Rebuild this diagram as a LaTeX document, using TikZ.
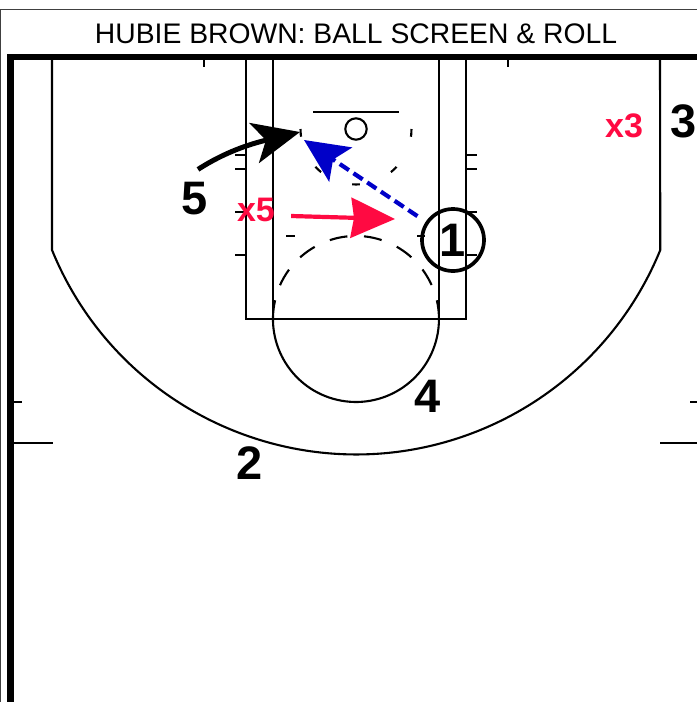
\documentclass[tikz,border=0pt]{standalone}
\usepackage{fontspec}
\setmainfont{Liberation Sans}
\usetikzlibrary{arrows.meta}
\definecolor{defred}{HTML}{FF0A42}
\definecolor{passblue}{HTML}{0000C8}
\tikzset{
  court/.style={draw=black,line width=2.1pt},
  player/.style={font=\fontsize{47}{47}\selectfont\bfseries,inner sep=0pt},
  defender/.style={font=\fontsize{34}{34}\selectfont\bfseries,text=defred,inner sep=0pt}
}
\begin{document}
\begin{tikzpicture}[x=1pt,y=-1pt]
  \useasboundingbox (0,0) rectangle (697,702);
  \draw[draw=black!75,line width=1pt] (0.5,702) -- (0.5,9) -- (697,9);
  \node (title) at (356,34) {\fontsize{28.3}{28.3}\selectfont HUBIE BROWN: BALL SCREEN \& ROLL};
  \draw[line width=6.7pt] (10.5,702) -- (10.5,57) -- (697,57);
  \draw[court] (52,60) -- (52,250) arc[start angle=157.8,end angle=22.2,radius=328.5] -- (660,60);
  \draw[court] (246,60) -- (246,319) -- (466,319) -- (466,60);
  \draw[court] (273,60) -- (273,319);
  \draw[court] (439,60) -- (439,319);
  \draw[court] (275.1,300.3) arc[start angle=193,end angle=-13,radius=83];
  \draw[court,dash pattern=on 18pt off 16.6pt] (280,285.2) arc[start angle=204,end angle=336,radius=83];
  \draw[court] (313,112) -- (399,112);
  \draw[court] (356,129) circle[radius=10.7];
  \draw[court,dash pattern=on 7.75pt off 33.9pt] (411.5,129) arc[start angle=0,end angle=180,radius=55.5];
  \foreach \y in {155,169,212,255} {
    \draw[court] (235,\y) -- (246,\y);
    \draw[court] (466,\y) -- (477,\y);
  }
  \draw[court] (286,236) -- (295,236);
  \draw[court] (417,236) -- (425,236);
  \draw[court] (204,60) -- (204,67);
  \draw[court] (508,60) -- (508,67);
  \draw[court] (14,402) -- (22,402);
  \draw[court] (14,443) -- (53,443);
  \draw[court] (690,402) -- (697,402);
  \draw[court] (660,443) -- (697,443);
  \node[player] (two) at (250,463) {2};
  \node[player] (three) at (684,121) {3};
  \node[player] (four) at (428,396) {4};
  \node[player] (five) at (195,199) {5};
  \node[defender] (xthree) at (624,126) {x3};
  \node[defender] (xfive) at (256,210) {x5};
  \node[player,draw,line width=3.7pt,circle,minimum size=62pt] (one) at (453,240) {1};
  \coordinate (screen) at (300,132);
  \coordinate (pass) at (304,140);
  \coordinate (roll) at (395,219);
  \draw[line width=5pt,-{Stealth[length=47pt,width=41pt,inset=12pt]}] ([shift={(3,-13)}]five.north)
    .. controls (225,152) and (250,144) .. (screen);
  \draw[passblue,line width=4.2pt,dash pattern=on 11pt off 5.5pt,
    -{Stealth[length=44pt,width=41pt,inset=9pt,passblue]},shorten <=10pt] (one) -- (pass);
  \draw[defred,line width=4.2pt,-{Stealth[length=44pt,width=40pt,inset=3pt,defred]}]
    ([shift={(16,6)}]xfive.east) -- (roll);
\end{tikzpicture}
\end{document}
